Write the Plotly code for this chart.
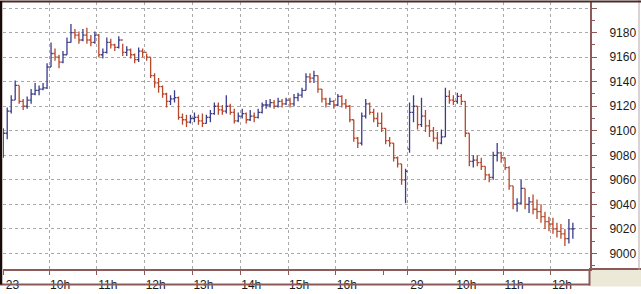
import plotly.graph_objects as go

# ---- data: 5-minute OHLC bars ----
# day "23": 09:00 .. 17:30 ; day "29": 09:00 .. 12:30
day1_open = [9080, 9098, 9116, 9125, 9137, 9124, 9120, 9125, 9130, 9133,
             9134, 9135, 9152, 9163, 9160, 9156, 9162, 9172, 9180, 9178,
             9174, 9178, 9174, 9172, 9178, 9162, 9164, 9172, 9170, 9168,
             9174, 9164, 9166, 9162, 9158, 9165, 9164, 9160, 9145, 9139,
             9136, 9130, 9124, 9126, 9127, 9111, 9109, 9107, 9110, 9111,
             9108, 9106, 9111, 9114, 9120, 9117, 9116, 9120, 9115, 9108,
             9112, 9114, 9109, 9112, 9111, 9115, 9121, 9121, 9123, 9120,
             9124, 9122, 9125, 9122, 9127, 9129, 9133, 9144, 9143, 9145,
             9134, 9126, 9122, 9124, 9121, 9128, 9122, 9120, 9109, 9094,
             9090, 9112, 9122, 9115, 9110, 9106, 9102, 9092, 9090, 9078,
             9073, 9060]
day1_high = [9102, 9119, 9129, 9141, 9137, 9126, 9128, 9134, 9139, 9137,
             9139, 9155, 9172, 9167, 9162, 9165, 9176, 9187, 9183, 9181,
             9183, 9184, 9178, 9181, 9179, 9167, 9176, 9175, 9171, 9177,
             9171, 9169, 9167, 9163, 9168, 9167, 9163, 9160, 9147, 9143,
             9137, 9131, 9129, 9133, 9128, 9114, 9113, 9113, 9115, 9113,
             9114, 9113, 9117, 9123, 9123, 9121, 9129, 9122, 9118, 9115,
             9118, 9115, 9117, 9115, 9118, 9123, 9125, 9126, 9125, 9127,
             9126, 9127, 9127, 9130, 9131, 9135, 9147, 9147, 9149, 9145,
             9134, 9127, 9127, 9125, 9130, 9129, 9126, 9121, 9109, 9095,
             9115, 9126, 9123, 9118, 9115, 9115, 9102, 9095, 9090, 9079,
             9073, 9069]
day1_low = [9078, 9093, 9114, 9125, 9122, 9117, 9118, 9122, 9129, 9129,
            9133, 9134, 9152, 9157, 9151, 9155, 9162, 9172, 9175, 9171,
            9173, 9171, 9169, 9171, 9160, 9159, 9163, 9167, 9165, 9167,
            9161, 9161, 9159, 9155, 9156, 9160, 9157, 9143, 9135, 9131,
            9127, 9119, 9121, 9123, 9109, 9105, 9103, 9106, 9107, 9105,
            9103, 9106, 9107, 9113, 9113, 9113, 9114, 9113, 9106, 9107,
            9110, 9106, 9108, 9107, 9110, 9114, 9118, 9119, 9118, 9119,
            9119, 9121, 9119, 9120, 9124, 9127, 9133, 9139, 9139, 9131,
            9123, 9119, 9121, 9118, 9120, 9119, 9118, 9107, 9091, 9086,
            9088, 9110, 9113, 9107, 9103, 9099, 9089, 9087, 9075, 9070,
            9056, 9041]
day1_close = [9098, 9116, 9125, 9137, 9124, 9120, 9125, 9130, 9133, 9134,
              9135, 9152, 9163, 9160, 9156, 9162, 9172, 9180, 9178, 9174,
              9178, 9174, 9172, 9178, 9162, 9164, 9172, 9170, 9168, 9174,
              9164, 9166, 9162, 9158, 9165, 9164, 9160, 9145, 9139, 9136,
              9130, 9124, 9126, 9127, 9111, 9109, 9107, 9110, 9111, 9108,
              9106, 9111, 9114, 9120, 9117, 9116, 9120, 9115, 9108, 9112,
              9114, 9109, 9112, 9111, 9115, 9121, 9121, 9123, 9120, 9124,
              9122, 9125, 9122, 9127, 9129, 9133, 9144, 9143, 9145, 9134,
              9126, 9122, 9124, 9121, 9128, 9122, 9120, 9109, 9094, 9090,
              9112, 9122, 9115, 9110, 9106, 9102, 9092, 9090, 9078, 9073,
              9060, 9067]

day2_open = [9085, 9115, 9120, 9105, 9112, 9104, 9100, 9094, 9090, 9095,
             9128, 9125, 9124, 9128, 9124, 9098, 9075, 9076, 9074, 9071,
             9064, 9062, 9080, 9082, 9078, 9070, 9055, 9040, 9041, 9053,
             9040, 9042, 9036, 9034, 9030, 9026, 9024, 9020, 9018, 9016,
             9012, 9020]
day2_high = [9123, 9129, 9120, 9127, 9117, 9109, 9103, 9099, 9101, 9135,
             9133, 9129, 9131, 9130, 9124, 9098, 9080, 9080, 9078, 9071,
             9065, 9083, 9090, 9083, 9078, 9071, 9055, 9045, 9060, 9053,
             9046, 9048, 9044, 9040, 9034, 9030, 9029, 9025, 9024, 9020,
             9028, 9025]
day2_low = [9082, 9107, 9101, 9103, 9099, 9095, 9091, 9085, 9089, 9095,
            9122, 9121, 9122, 9121, 9095, 9071, 9070, 9071, 9068, 9060,
            9058, 9060, 9075, 9074, 9068, 9052, 9036, 9034, 9040, 9036,
            9033, 9032, 9028, 9025, 9020, 9018, 9016, 9013, 9012, 9006,
            9008, 9012]
day2_close = [9115, 9120, 9105, 9112, 9104, 9100, 9094, 9090, 9095, 9128,
              9125, 9124, 9128, 9124, 9098, 9075, 9076, 9074, 9071, 9064,
              9062, 9080, 9082, 9078, 9070, 9055, 9040, 9041, 9053, 9040,
              9042, 9036, 9034, 9030, 9026, 9024, 9020, 9018, 9016, 9012,
              9020, 9020]

# time axis: minutes since 09:00 on a continuous session scale
BAR_MIN = 5
SESSION_MIN = 510  # 09:00 -> 17:30
x_tick_minutes = [2.3, 60, 120, 180, 240, 300, 360, 420, 510, 570, 630, 690]
x_tick_labels = ["23\u00a0", "10h", "11h", "12h", "13h", "14h", "15h", "16h",
                 "29\u00a0", "10h", "11h", "12h"]
x_unlabeled_ticks = [480]
price_ticks = [9000, 9020, 9040, 9060, 9080, 9100, 9120, 9140, 9160, 9180, 9200]
price_labels = ["9000", "9020", "9040", "9060", "9080", "9100", "9120",
                "9140", "9160", "9180", ""]

x1 = [BAR_MIN * i + BAR_MIN / 2 for i in range(len(day1_close))]
x2 = [SESSION_MIN + BAR_MIN * j + BAR_MIN / 2 for j in range(len(day2_close))]

UP = "#3c3c8c"
DOWN = "#b8482a"
AXIS = "#8b5a5a"
GRID = "#a9a9a9"

fig = go.Figure()
fig.add_trace(go.Ohlc(
    x=x1 + x2,
    open=day1_open + day2_open,
    high=day1_high + day2_high,
    low=day1_low + day2_low,
    close=day1_close + day2_close,
    increasing=dict(line=dict(color=UP, width=1.3)),
    decreasing=dict(line=dict(color=DOWN, width=1.3)),
    tickwidth=0.45,
    hoverinfo="skip",
    showlegend=False,
))

W, H = 641, 294
L, R, T, B = 3, 51, 2, 18
pw, ph = W - L - R, H - T - B

def px_x(p):
    return (p - L) / pw

def px_y(p):
    return (H - B - p) / ph

fig.update_layout(
    width=W, height=H,
    margin=dict(l=L, r=R, t=T, b=B, pad=0),
    paper_bgcolor="white",
    plot_bgcolor="white",
    showlegend=False,
    hovermode=False,
    font=dict(family="Liberation Sans, Arial, sans-serif", size=12, color="#1a1a1a"),
    xaxis=dict(
        range=[2.2, 739],
        rangeslider=dict(visible=False),
        tickmode="array",
        tickvals=x_tick_minutes,
        ticktext=x_tick_labels,
        ticks="outside", ticklen=4, tickwidth=1, tickcolor=AXIS,
        ticklabelshift=11,
        showgrid=True, gridcolor=GRID, griddash="3px,3px", gridwidth=1,
        showline=True, linecolor=AXIS, linewidth=2,
        zeroline=False,
        minor=dict(tickmode="array", tickvals=x_unlabeled_ticks, ticks="outside",
                   ticklen=4, tickcolor=AXIS, showgrid=False),
        fixedrange=True,
    ),
    yaxis=dict(
        range=[8987.3, 9205.0],
        side="right",
        tickmode="array",
        tickvals=price_ticks,
        ticktext=price_labels,
        ticks="outside", ticklen=5, tickwidth=1, tickcolor=AXIS,
        ticklabelstandoff=10,
        showgrid=True, gridcolor=GRID, griddash="3px,3px", gridwidth=1,
        showline=True, linecolor=AXIS, linewidth=2,
        zeroline=False,
        minor=dict(dtick=10, tick0=9000, ticks="outside", ticklen=3,
                   tickcolor=AXIS, showgrid=False),
        fixedrange=True,
    ),
    shapes=[
        dict(type="rect", xref="paper", yref="paper",
             x0=px_x(590), x1=px_x(641), y0=px_y(294), y1=px_y(277),
             fillcolor="#ece9d8", line=dict(width=0), layer="below"),
        dict(type="line", xref="paper", yref="paper",
             x0=px_x(0), x1=px_x(590), y0=px_y(292), y1=px_y(292),
             line=dict(color=AXIS, width=2)),
        dict(type="line", xref="paper", yref="paper",
             x0=px_x(589.5), x1=px_x(589.5), y0=px_y(293), y1=px_y(276),
             line=dict(color=AXIS, width=2)),
        dict(type="line", xref="paper", yref="paper",
             x0=px_x(589), x1=px_x(641), y0=px_y(276), y1=px_y(276),
             line=dict(color=AXIS, width=2)),
        dict(type="line", xref="paper", yref="paper",
             x0=px_x(639), x1=px_x(639), y0=px_y(277), y1=px_y(0),
             line=dict(color="#b8a8a8", width=1)),
        dict(type="line", xref="paper", yref="paper",
             x0=px_x(0), x1=px_x(641), y0=px_y(1.5), y1=px_y(1.5),
             line=dict(color="#4a2a2a", width=2)),
        dict(type="line", xref="paper", yref="paper",
             x0=px_x(1), x1=px_x(1), y0=px_y(292), y1=px_y(1),
             line=dict(color="#1a0a0a", width=2.5)),
    ],
)

fig.write_html("out.html")
